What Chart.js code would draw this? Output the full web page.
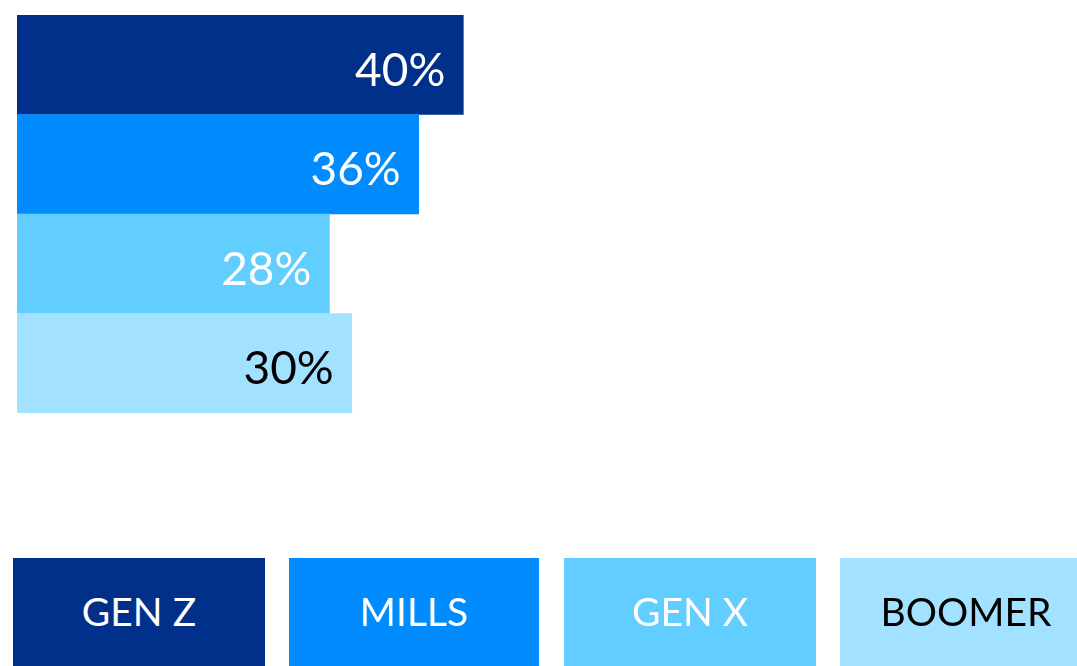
<!DOCTYPE html>
<html>
<head>
<meta charset="utf-8">
<script src="https://cdn.jsdelivr.net/npm/chart.js@4/dist/chart.umd.min.js"></script>
<style>
  html, body { margin: 0; padding: 0; background: #ffffff; overflow: hidden; width: 1077px; height: 666px; }
  #wrap { position: relative; width: 1077px; height: 666px; }
  canvas { position: absolute; left: 0; top: 0; }
  .lg { position: absolute; top: 558px; width: 252px; height: 108px; line-height: 106px; box-sizing: border-box;
        text-align: center; font-family: Lato, "Noto Sans", sans-serif; font-size: 39px; white-space: nowrap; }
</style>
</head>
<body>
<div id="wrap">
  <canvas id="c" width="1077" height="666"></canvas>
</div>
<script>
const categories = ['GEN Z', 'MILLS', 'GEN X', 'BOOMER'];
const values = [40, 36, 28, 30];
const colors = ['#00308A', '#008CFF', '#62CDFF', '#A2E1FF'];
const labelColors = ['#ffffff', '#ffffff', '#ffffff', '#000000'];
const legendLeft = [13, 289, 564, 840];

const wrap = document.getElementById('wrap');
categories.forEach((name, i) => {
  const d = document.createElement('div');
  d.className = 'lg';
  d.style.left = legendLeft[i] + 'px';
  d.style.width = (i === 1 ? 250 : 252) + 'px';
  d.style.background = colors[i];
  d.style.color = labelColors[i];
  d.textContent = name;
  wrap.appendChild(d);
});

const valueLabels = {
  id: 'valueLabels',
  afterDatasetsDraw(chart) {
    const ctx = chart.ctx;
    const meta = chart.getDatasetMeta(0);
    ctx.save();
    ctx.font = '46px Lato, "Noto Sans", sans-serif';
    ctx.textAlign = 'right';
    ctx.textBaseline = 'alphabetic';
    meta.data.forEach((bar, i) => {
      ctx.fillStyle = labelColors[i];
      ctx.fillText(values[i] + '%', bar.x - 18, bar.y + 21);
    });
    ctx.restore();
  }
};

new Chart(document.getElementById('c'), {
  type: 'bar',
  data: {
    labels: categories,
    datasets: [{
      data: values,
      backgroundColor: colors,
      borderWidth: 0,
      categoryPercentage: 1,
      barPercentage: 1
    }]
  },
  options: {
    indexAxis: 'y',
    responsive: false,
    animation: false,
    layout: { padding: { left: 17, top: 15, bottom: 253, right: 0 } },
    plugins: { legend: { display: false }, tooltip: { enabled: false } },
    scales: {
      x: { display: false, min: 0, max: 95 },
      y: { display: false }
    }
  },
  plugins: [valueLabels]
});
</script>
</body>
</html>
